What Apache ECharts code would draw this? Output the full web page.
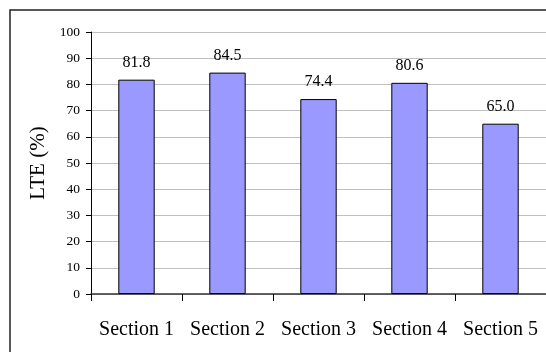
<!DOCTYPE html>
<html><head><meta charset="utf-8">
<script src="https://cdn.jsdelivr.net/npm/echarts@6/dist/echarts.min.js"></script>
<style>html,body{margin:0;padding:0;background:#fff}#c{width:546px;height:352px}</style>
</head><body><div id="c"></div>
<script>
var categories = ['Section 1','Section 2','Section 3','Section 4','Section 5'];
var lteValues = [81.8, 84.5, 74.4, 80.6, 65.0];
var yTicks = [0,10,20,30,40,50,60,70,80,90,100];

var chart = echarts.init(document.getElementById('c'), null, {renderer:'canvas'});
var font = '"Liberation Serif","Times New Roman",serif';
chart.setOption({
  animation:false,
  backgroundColor:'#fff',
  graphic:[{type:'rect',shape:{x:10,y:10,width:700,height:500},style:{fill:'none',stroke:'#222',lineWidth:1.5},z:-1}],
  grid:{left:91,top:32,width:460,height:262},
  xAxis:{type:'category',data:categories,
    axisLine:{lineStyle:{color:'#333',width:1.5}},
    axisTick:{show:true,interval:0,length:7,lineStyle:{color:'#000'}},
    axisLabel:{interval:0,hideOverlap:false,fontFamily:font,fontSize:20,color:'#000',margin:26}},
  yAxis:{type:'value',min:yTicks[0],max:yTicks[yTicks.length-1],interval:10,
    name:'LTE (%)',nameLocation:'middle',nameRotate:90,nameGap:41,
    nameTextStyle:{fontFamily:font,fontSize:21,color:'#000'},
    axisLine:{show:true,lineStyle:{color:'#000',width:1}},
    axisTick:{show:true,length:5,lineStyle:{color:'#000'}},
    splitLine:{lineStyle:{color:'#c0c0c0',width:1}},
    axisLabel:{fontFamily:font,fontSize:13.5,color:'#000',margin:11}},
  series:[{type:'bar',data:lteValues,barWidth:'40%',
    itemStyle:{color:'#9999ff',borderColor:'#000',borderWidth:1},
    label:{show:true,position:'top',distance:9,fontFamily:font,fontSize:16,color:'#000',
      formatter:function(p){return p.value.toFixed(1);}}}]
});
</script></body></html>
